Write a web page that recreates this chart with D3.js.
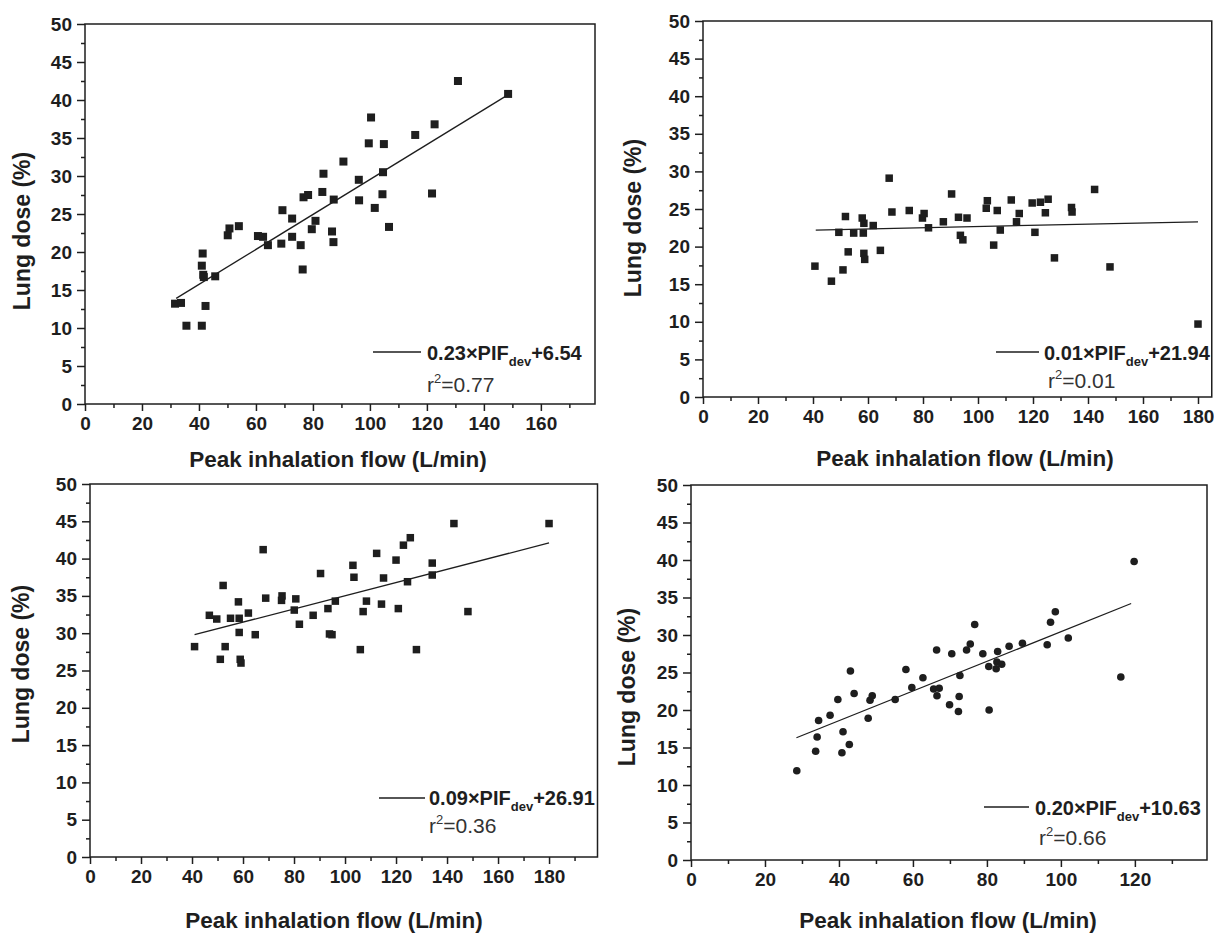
<!DOCTYPE html>
<html>
<head>
<meta charset="utf-8">
<script src="https://cdn.jsdelivr.net/npm/d3@7"></script>
<style>
  body { margin: 0; background: #fff; }
  svg  { display: block; font-family: "Liberation Sans", Arial, sans-serif; }
</style>
</head>
<body>
<div id="chart"></div>
<script>
// ── Data (PIF in L/min, lung dose in %) ───────────────────────────────────────
const doseA = [
  [31.6,13.2],[33.7,13.3],[35.6,10.3],[41.0,10.3],[41.3,19.8],[41.0,18.2],[41.5,17.0],
  [41.7,16.7],[42.3,12.9],[45.7,16.8],[50.1,22.2],[50.7,23.1],[54.0,23.4],[60.7,22.1],
  [62.5,22.0],[64.2,20.9],[69.3,25.5],[68.9,21.1],[72.7,24.4],[72.7,22.0],[75.7,20.9],
  [76.4,17.7],[76.7,27.2],[78.3,27.5],[79.6,23.0],[80.9,24.1],[83.3,27.9],[83.7,30.3],
  [86.7,22.7],[87.2,21.3],[87.3,26.9],[90.7,31.9],[96.1,29.5],[96.2,26.8],[99.6,34.3],
  [100.4,37.7],[101.7,25.8],[104.4,27.6],[104.6,30.5],[104.9,34.2],[106.7,23.3],
  [115.9,35.4],[121.8,27.7],[122.7,36.8],[130.9,42.5],[148.5,40.8]
];
const doseB = [
  [40.7,17.4],[46.7,15.4],[49.4,21.9],[50.9,16.9],[51.8,24.0],[52.8,19.3],[54.8,21.8],
  [57.9,23.8],[58.5,23.1],[58.3,21.8],[58.5,19.1],[58.8,18.3],[61.9,22.8],[64.5,19.5],
  [67.7,29.1],[68.7,24.6],[75.0,24.8],[79.8,23.8],[80.4,24.4],[82.0,22.5],[87.4,23.3],
  [90.4,27.0],[92.9,23.9],[93.6,21.5],[94.5,20.9],[96.0,23.8],[103.0,25.1],[103.4,26.1],
  [105.7,20.2],[107.0,24.8],[108.1,22.2],[112.1,26.2],[114.0,23.3],[115.0,24.4],
  [119.7,25.8],[120.7,21.9],[122.7,25.9],[124.5,24.5],[125.5,26.3],[127.8,18.5],
  [134.0,25.2],[134.2,24.6],[142.4,27.6],[148.0,17.3],[180.0,9.7]
];
const doseC = [
  [41.0,28.2],[46.8,32.4],[49.7,31.9],[51.1,26.5],[52.2,36.4],[53.0,28.2],[55.1,32.0],
  [58.2,34.2],[58.5,32.0],[58.5,30.1],[58.9,26.5],[59.2,26.0],[62.1,32.7],[64.8,29.8],
  [67.9,41.2],[68.9,34.7],[75.1,34.4],[75.3,35.0],[80.1,33.1],[80.7,34.6],[82.1,31.2],
  [87.5,32.4],[90.4,38.0],[93.3,33.3],[93.9,29.9],[94.9,29.8],[96.2,34.3],[103.1,39.1],
  [103.5,37.5],[106.0,27.8],[107.1,32.9],[108.4,34.3],[112.4,40.7],[114.3,33.9],
  [115.1,37.4],[120.0,39.8],[120.9,33.3],[122.9,41.8],[124.5,36.9],[125.6,42.8],
  [128.0,27.8],[134.2,39.4],[134.2,37.8],[142.7,44.7],[148.2,32.9],[180.0,44.7]
];
const doseD = [
  [28.6,11.9],[33.7,14.5],[34.1,16.4],[34.5,18.6],[37.6,19.3],[39.7,21.4],[40.8,14.3],
  [41.1,17.1],[42.8,15.4],[43.1,25.2],[44.1,22.2],[47.9,18.9],[48.4,21.3],[49.0,21.9],
  [55.2,21.4],[58.1,25.4],[59.7,23.0],[62.7,24.3],[65.6,22.8],[66.4,28.0],[66.5,21.9],
  [67.1,22.9],[69.9,20.7],[70.5,27.5],[72.3,19.8],[72.5,21.8],[72.7,24.6],[74.5,28.0],
  [75.5,28.8],[76.7,31.4],[78.9,27.5],[80.5,25.8],[80.6,20.0],[82.5,25.5],[82.7,26.4],
  [82.9,27.8],[84.0,26.1],[86.0,28.5],[89.6,28.9],[96.3,28.7],[97.2,31.7],[98.5,33.1],
  [102.0,29.6],[116.2,24.4],[119.8,39.8]
];

// fitted line end points
const fitA = [[32, 13.9], [149, 40.8]];
const fitB = [[41, 22.2], [180, 23.3]];
const fitC = [[41, 29.8], [180, 42.1]];
const fitD = [[28.5, 16.3], [119, 34.2]];

// legend texts: [slope, intercept, r²]
const eqA = ["0.23", "+6.54",  "0.77"];
const eqB = ["0.01", "+21.94", "0.01"];
const eqC = ["0.09", "+26.91", "0.36"];
const eqD = ["0.20", "+10.63", "0.66"];

const Y_MAX   = 50;
const X_TITLE = "Peak inhalation flow (L/min)";
const Y_TITLE = "Lung dose (%)";
const INK     = "#1e1e1e";

// ── Panel layout ──────────────────────────────────────────────────────────────
const panels = [
  { data: doseA, fit: fitA, eq: eqA, marker: "square", size: 8,
    xMax: 179, xRange: [85, 595], yRange: [404, 24],
    yTitle: [29.5, 231], xTitle: [338, 467],
    leg: { x1: 373, x2: 421, ly: 352, tx: 427, ty: 360, rx: 427, ry: 392 } },
  { data: doseB, fit: fitB, eq: eqB, marker: "square", size: 7.5,
    xMax: 185, xRange: [703, 1211.75], yRange: [397, 21],
    yTitle: [641, 218], xTitle: [965, 466],
    leg: { x1: 996, x2: 1039, ly: 352, tx: 1044, ty: 360, rx: 1048, ry: 388 } },
  { data: doseC, fit: fitC, eq: eqC, marker: "square", size: 7.5,
    xMax: 199, xRange: [90, 597.5], yRange: [857, 484],
    yTitle: [29, 664], xTitle: [334, 928],
    leg: { x1: 379, x2: 425, ly: 798, tx: 429, ty: 805, rx: 429, ry: 833 } },
  { data: doseD, fit: fitD, eq: eqD, marker: "circle", size: 7.6,
    xMax: 139.5, xRange: [691, 1207], yRange: [860, 485],
    yTitle: [634.5, 687], xTitle: [948, 928],
    leg: { x1: 984, x2: 1029, ly: 807, tx: 1035, ty: 815, rx: 1039, ry: 845 } },
];

// ── SVG ───────────────────────────────────────────────────────────────────────
const svg = d3.select("#chart")
  .append("svg")
  .attr("width", 1214)
  .attr("height", 935);

function styleAxis(g) {
  g.select(".domain").remove();
  g.selectAll(".tick line").attr("stroke", INK).attr("stroke-width", 1.5);
  g.selectAll(".tick text")
    .attr("fill", INK)
    .style("font-size", "19px")
    .style("font-weight", "bold");
}

function drawPanel(p) {
  const x = d3.scaleLinear().domain([0, p.xMax]).range(p.xRange);
  const y = d3.scaleLinear().domain([0, Y_MAX]).range(p.yRange);
  const g = svg.append("g");

  const [x0, x1] = p.xRange;
  const [yb, yt] = p.yRange;

  // minor ticks
  g.append("g").attr("transform", `translate(0,${yb})`)
    .call(d3.axisBottom(x).tickValues(d3.range(10, p.xMax, 20)).tickSize(4).tickFormat(""))
    .call(styleAxis);
  g.append("g").attr("transform", `translate(${x0},0)`)
    .call(d3.axisLeft(y).tickValues(d3.range(2.5, Y_MAX, 5)).tickSize(4).tickFormat(""))
    .call(styleAxis);

  // major ticks
  g.append("g").attr("transform", `translate(0,${yb})`)
    .call(d3.axisBottom(x).tickValues(d3.range(0, p.xMax + 0.01, 20)).tickSize(7).tickPadding(6).tickFormat(d3.format("d")))
    .call(styleAxis);
  g.append("g").attr("transform", `translate(${x0},0)`)
    .call(d3.axisLeft(y).tickValues(d3.range(0, Y_MAX + 0.01, 5)).tickSize(8).tickPadding(5).tickFormat(d3.format("d")))
    .call(styleAxis);

  // frame
  g.append("rect")
    .attr("x", x0).attr("y", yt)
    .attr("width", x1 - x0).attr("height", yb - yt)
    .attr("fill", "none").attr("stroke", INK).attr("stroke-width", 1.5);

  // fit line
  g.append("path")
    .datum(p.fit)
    .attr("d", d3.line().x(d => x(d[0])).y(d => y(d[1])))
    .attr("fill", "none").attr("stroke", INK).attr("stroke-width", 1.3);

  // points
  if (p.marker === "circle") {
    g.selectAll("circle.pt").data(p.data).join("circle")
      .attr("class", "pt")
      .attr("cx", d => x(d[0])).attr("cy", d => y(d[1]))
      .attr("r", p.size / 2).attr("fill", INK);
  } else {
    g.selectAll("rect.pt").data(p.data).join("rect")
      .attr("class", "pt")
      .attr("x", d => x(d[0]) - p.size / 2).attr("y", d => y(d[1]) - p.size / 2)
      .attr("width", p.size).attr("height", p.size).attr("fill", INK);
  }

  // axis titles
  g.append("text")
    .attr("x", p.xTitle[0]).attr("y", p.xTitle[1])
    .attr("text-anchor", "middle").attr("fill", INK)
    .style("font-size", "22.5px").style("font-weight", "bold")
    .text(X_TITLE);
  g.append("text")
    .attr("transform", `translate(${p.yTitle[0]},${p.yTitle[1]}) rotate(-90)`)
    .attr("text-anchor", "middle").attr("fill", INK)
    .style("font-size", "23px").style("font-weight", "bold")
    .text(Y_TITLE);

  // legend
  const L = p.leg;
  g.append("line")
    .attr("x1", L.x1).attr("x2", L.x2).attr("y1", L.ly).attr("y2", L.ly)
    .attr("stroke", INK).attr("stroke-width", 1.3);
  const eq = g.append("text")
    .attr("x", L.tx).attr("y", L.ty).attr("fill", INK)
    .style("font-size", "20px").style("font-weight", "bold");
  eq.append("tspan").text(`${p.eq[0]}×PIF`);
  eq.append("tspan").attr("dy", 6).style("font-size", "13px").text("dev");
  eq.append("tspan").attr("dy", -6).text(p.eq[1]);

  const r2 = g.append("text")
    .attr("x", L.rx).attr("y", L.ry).attr("fill", "#333")
    .style("font-size", "21px");
  r2.append("tspan").text("r");
  r2.append("tspan").attr("dy", -9).style("font-size", "13px").text("2");
  r2.append("tspan").attr("dy", 9).text(`=${p.eq[2]}`);
}

panels.forEach(drawPanel);
</script>
</body>
</html>
